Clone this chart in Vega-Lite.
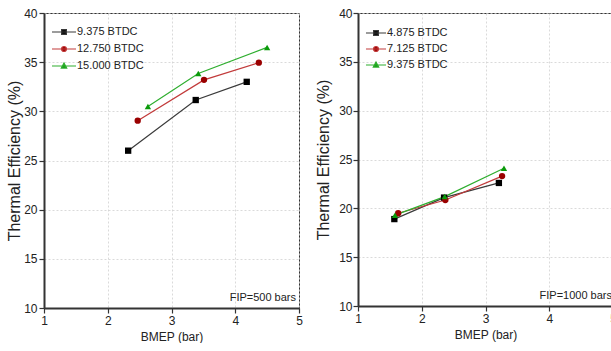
{
  "$schema": "https://vega.github.io/schema/vega-lite/v6.json",
  "padding": {"left": 6, "top": 6, "right": 0, "bottom": 0},
  "background": "white",
  "spacing": 12,
  "resolve": {
    "scale": {"stroke": "independent", "fill": "independent", "shape": "independent"},
    "legend": {"stroke": "independent", "fill": "independent", "shape": "independent"}
  },
  "datasets": {
    "fip500": [
      {"series": "9.375 BTDC", "bmep": 2.32, "eff": 26.0},
      {"series": "9.375 BTDC", "bmep": 3.38, "eff": 31.15},
      {"series": "9.375 BTDC", "bmep": 4.18, "eff": 33.0},
      {"series": "12.750 BTDC", "bmep": 2.47, "eff": 29.05},
      {"series": "12.750 BTDC", "bmep": 3.51, "eff": 33.2},
      {"series": "12.750 BTDC", "bmep": 4.37, "eff": 34.95},
      {"series": "15.000 BTDC", "bmep": 2.63, "eff": 30.5},
      {"series": "15.000 BTDC", "bmep": 3.42, "eff": 33.85},
      {"series": "15.000 BTDC", "bmep": 4.50, "eff": 36.5}
    ],
    "fip1000": [
      {"series": "4.875 BTDC", "bmep": 1.57, "eff": 18.9},
      {"series": "4.875 BTDC", "bmep": 2.35, "eff": 21.1},
      {"series": "4.875 BTDC", "bmep": 3.21, "eff": 22.6},
      {"series": "7.125 BTDC", "bmep": 1.63, "eff": 19.5},
      {"series": "7.125 BTDC", "bmep": 2.37, "eff": 20.85},
      {"series": "7.125 BTDC", "bmep": 3.26, "eff": 23.3},
      {"series": "9.375 BTDC", "bmep": 1.58, "eff": 19.3},
      {"series": "9.375 BTDC", "bmep": 2.36, "eff": 21.2},
      {"series": "9.375 BTDC", "bmep": 3.29, "eff": 24.1}
    ]
  },
  "config": {
    "view": {"stroke": "#333333", "strokeWidth": 1},
    "font": "Liberation Sans",
    "axis": {
      "labelFont": "Liberation Sans",
      "labelFontSize": 12,
      "labelColor": "#222222",
      "titleFont": "Liberation Sans",
      "titleColor": "#222222",
      "domainColor": "#333333",
      "domainWidth": 2,
      "tickColor": "#333333",
      "tickSize": 5,
      "tickWidth": 1.2,
      "gridColor": "#d0d0d0",
      "gridDash": [2, 2],
      "gridWidth": 0.8,
      "labelFlush": false,
      "labelOverlap": false,
      "labelPadding": 2
    },
    "axisX": {"titleFontSize": 12, "titleFontWeight": "normal", "titlePadding": 5, "format": "d"},
    "axisY": {"titleFontSize": 16, "titleFontWeight": "normal", "titlePadding": 1, "format": "d"},
    "legend": {"title": null, "orient": "none", "symbolSize": 144, "rowPadding": 5, "labelFont": "Liberation Sans", "labelFontSize": 11, "labelColor": "#222222", "symbolStrokeWidth": 1.2}
  },
  "hconcat": [
    {
      "width": 255,
      "height": 295,
      "data": {"name": "fip500"},
      "layer": [
        {
          "mark": {"type": "line", "strokeWidth": 1.2},
          "encoding": {
            "x": {"field": "bmep", "type": "quantitative", "scale": {"domain": [1, 5], "nice": false}, "axis": {"title": "BMEP (bar)", "values": [1, 2, 3, 4, 5]}},
            "y": {"field": "eff", "type": "quantitative", "scale": {"domain": [10, 40], "nice": false}, "axis": {"title": "Thermal Efficiency (%)", "values": [10, 15, 20, 25, 30, 35, 40]}},
            "stroke": {"field": "series", "type": "nominal", "scale": {"domain": ["9.375 BTDC", "12.750 BTDC", "15.000 BTDC"], "range": ["#3a3a3a", "#c23b3b", "#2fae2f"]},
              "legend": {"title": null, "orient": "none", "legendX": 13, "legendY": 12, "labelOffset": 6, "rowPadding": 5}}
          }
        },
        {
          "transform": [{"filter": "datum.series == '9.375 BTDC'"}],
          "mark": {"type": "point", "filled": true, "size": 40, "opacity": 1, "shape": "square", "fill": "#000000"},
          "encoding": {"x": {"field": "bmep", "type": "quantitative"}, "y": {"field": "eff", "type": "quantitative"}}
        },
        {
          "transform": [{"filter": "datum.series == '12.750 BTDC'"}],
          "mark": {"type": "point", "filled": true, "size": 40, "opacity": 1, "shape": "circle", "fill": "#9a0000"},
          "encoding": {"x": {"field": "bmep", "type": "quantitative"}, "y": {"field": "eff", "type": "quantitative"}}
        },
        {
          "transform": [{"filter": "datum.series == '15.000 BTDC'"}],
          "mark": {"type": "point", "filled": true, "size": 40, "opacity": 1, "shape": "triangle-up", "fill": "#0a9a0a"},
          "encoding": {"x": {"field": "bmep", "type": "quantitative"}, "y": {"field": "eff", "type": "quantitative"}}
        },
        {
          "transform": [{"filter": "false"}],
          "mark": {"type": "point", "filled": true, "opacity": 1},
          "encoding": {
            "x": {"field": "bmep", "type": "quantitative"},
            "y": {"field": "eff", "type": "quantitative"},
            "shape": {"field": "series", "type": "nominal", "scale": {"domain": ["9.375 BTDC", "12.750 BTDC", "15.000 BTDC"], "range": ["M-2,0H2M-0.4,-0.4H0.4V0.4H-0.4Z", "M-2,0H2M0.42,0A0.42,0.42,0,1,1,-0.42,0A0.42,0.42,0,1,1,0.42,0Z", "M-2,0H2M0,-0.5L0.45,0.35H-0.45Z"]},
              "legend": {"title": null, "orient": "none", "legendX": 13, "legendY": 12, "labelOffset": 6, "rowPadding": 5}},
            "fill": {"field": "series", "type": "nominal", "scale": {"domain": ["9.375 BTDC", "12.750 BTDC", "15.000 BTDC"], "range": ["#000000", "#9a0000", "#0a9a0a"]},
              "legend": {"title": null, "orient": "none", "legendX": 13, "legendY": 12, "labelOffset": 6, "rowPadding": 5}}
          }
        },
        {
          "data": {"values": [{"note": "FIP=500 bars"}]},
          "mark": {"type": "text", "align": "right", "baseline": "bottom", "dx": -3, "dy": -5, "font": "Liberation Sans", "fontSize": 11, "color": "#222222"},
          "encoding": {
            "x": {"datum": 5, "type": "quantitative"},
            "y": {"datum": 10, "type": "quantitative"},
            "text": {"field": "note"}
          }
        }
      ]
    },
    {
      "width": 255,
      "height": 293,
      "data": {"name": "fip1000"},
      "layer": [
        {
          "mark": {"type": "line", "strokeWidth": 1.2},
          "encoding": {
            "x": {"field": "bmep", "type": "quantitative", "scale": {"domain": [1, 5], "nice": false}, "axis": {"title": "BMEP (bar)", "values": [1, 2, 3, 4, 5]}},
            "y": {"field": "eff", "type": "quantitative", "scale": {"domain": [10, 40], "nice": false}, "axis": {"title": "Thermal Efficiency (%)", "values": [10, 15, 20, 25, 30, 35, 40], "titlePadding": 7, "labelPadding": 1}},
            "stroke": {"field": "series", "type": "nominal", "scale": {"domain": ["4.875 BTDC", "7.125 BTDC", "9.375 BTDC"], "range": ["#3a3a3a", "#c23b3b", "#2fae2f"]},
              "legend": {"title": null, "orient": "none", "legendX": 11, "legendY": 13, "labelOffset": 4, "rowPadding": 4}}
          }
        },
        {
          "transform": [{"filter": "datum.series == '4.875 BTDC'"}],
          "mark": {"type": "point", "filled": true, "size": 40, "opacity": 1, "shape": "square", "fill": "#000000"},
          "encoding": {"x": {"field": "bmep", "type": "quantitative"}, "y": {"field": "eff", "type": "quantitative"}}
        },
        {
          "transform": [{"filter": "datum.series == '7.125 BTDC'"}],
          "mark": {"type": "point", "filled": true, "size": 40, "opacity": 1, "shape": "circle", "fill": "#9a0000"},
          "encoding": {"x": {"field": "bmep", "type": "quantitative"}, "y": {"field": "eff", "type": "quantitative"}}
        },
        {
          "transform": [{"filter": "datum.series == '9.375 BTDC'"}],
          "mark": {"type": "point", "filled": true, "size": 40, "opacity": 1, "shape": "triangle-up", "fill": "#0a9a0a"},
          "encoding": {"x": {"field": "bmep", "type": "quantitative"}, "y": {"field": "eff", "type": "quantitative"}}
        },
        {
          "transform": [{"filter": "false"}],
          "mark": {"type": "point", "filled": true, "opacity": 1},
          "encoding": {
            "x": {"field": "bmep", "type": "quantitative"},
            "y": {"field": "eff", "type": "quantitative"},
            "shape": {"field": "series", "type": "nominal", "scale": {"domain": ["4.875 BTDC", "7.125 BTDC", "9.375 BTDC"], "range": ["M-1.67,0H1.67M-0.4,-0.4H0.4V0.4H-0.4Z", "M-1.67,0H1.67M0.42,0A0.42,0.42,0,1,1,-0.42,0A0.42,0.42,0,1,1,0.42,0Z", "M-1.67,0H1.67M0,-0.5L0.45,0.35H-0.45Z"]},
              "legend": {"title": null, "orient": "none", "legendX": 11, "legendY": 13, "labelOffset": 4, "rowPadding": 4}},
            "fill": {"field": "series", "type": "nominal", "scale": {"domain": ["4.875 BTDC", "7.125 BTDC", "9.375 BTDC"], "range": ["#000000", "#9a0000", "#0a9a0a"]},
              "legend": {"title": null, "orient": "none", "legendX": 11, "legendY": 13, "labelOffset": 4, "rowPadding": 4}}
          }
        },
        {
          "data": {"values": [{"note": "FIP=1000 bars"}]},
          "mark": {"type": "text", "align": "right", "baseline": "bottom", "dx": -1, "dy": -5, "font": "Liberation Sans", "fontSize": 11, "color": "#222222"},
          "encoding": {
            "x": {"datum": 5, "type": "quantitative"},
            "y": {"datum": 10, "type": "quantitative"},
            "text": {"field": "note"}
          }
        }
      ]
    }
  ]
}
